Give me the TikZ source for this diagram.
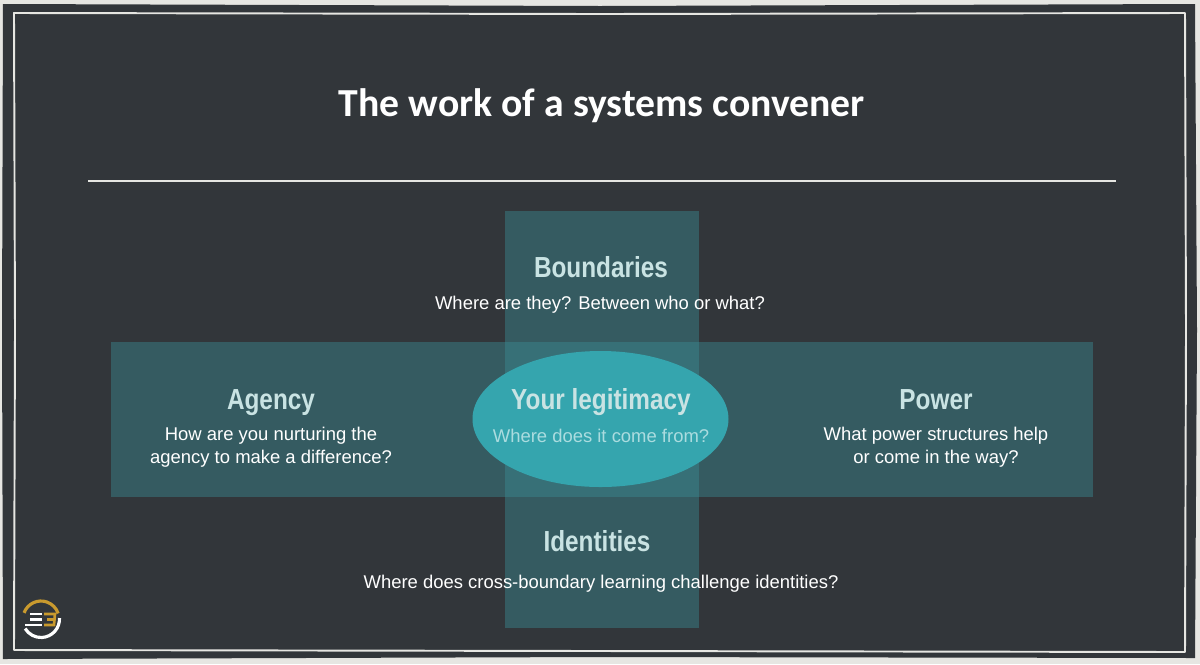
\documentclass[tikz,border=0pt]{standalone}
\usepackage{fontspec}
\setmainfont{Liberation Sans}
\newfontfamily\titlefont{Carlito}
\usetikzlibrary{shapes.geometric}
\definecolor{slate}{HTML}{32363A}
\definecolor{chalk}{HTML}{E6E6E2}
\definecolor{band}{HTML}{3A8F97}
\definecolor{lagoon}{HTML}{35A5AE}
\definecolor{heading}{HTML}{C9E3E3}
\definecolor{faded}{HTML}{ABDCDF}
\definecolor{gold}{HTML}{C99A2E}
\tikzset{heading/.style = {font=\bfseries\fontsize{16.5}{20}\selectfont, text=heading, inner sep=0, anchor=base, xscale=0.84}}
\tikzset{question/.style = {font=\fontsize{10.5}{13.2}\selectfont, text=white, align=center, inner sep=0}}
\tikzset{bandbox/.style = {fill=band, opacity=0.42, draw=none}}
\begin{document}
\begin{tikzpicture}[x=0.02cm,y=-0.02cm]
    \useasboundingbox (0,0) rectangle (1200,664);
    \fill [chalk] (0,0) rectangle (1200,664);
    \fill [slate] (3,4) -- (600,6) -- (1195,4) -- (1197,330) -- (1195,658) -- (600,657) -- (3,659) -- (2,330) -- cycle;
    \draw [chalk, line width=1.1pt, line join=round] (14,13) -- (600,14) -- (1185,13) -- (1186,330) -- (1185,652) -- (600,651) -- (14,650) -- (15,330) -- cycle;
    \node [font=\titlefont\bfseries\fontsize{22.6}{26}\selectfont, text=white, inner sep=0, anchor=base] (title) at (602,116) {The work of a systems convener};
    \coordinate (ruleleft) at (88,181);
    \coordinate (ruleright) at (1116,181);
    \draw [chalk, line width=0.7pt] (ruleleft) -- (ruleright);
    \fill [bandbox] (505,211) rectangle (699,628);
    \fill [bandbox] (111,342) rectangle (1093,497);
    \node [ellipse, fill=lagoon, minimum width=256*0.02cm, minimum height=136*0.02cm, inner sep=0] (centre) at (600.5,419) {};
    \node [heading] (boundaries) at (601,277) {Boundaries};
    \node [question, anchor=base] (boundariesq) at (600,309) {Where are they? Between who or what?};
    \node [heading] (agency) at (271,409) {Agency};
    \node [question] (agencyq) at (271,447) {How are you nurturing the\\agency to make a difference?};
    \node [heading] (legitimacy) at (601,409) {Your legitimacy};
    \node [question, anchor=base, text=faded] (legitimacyq) at (601,442) {Where does it come from?};
    \node [heading] (power) at (936,409) {Power};
    \node [question] (powerq) at (936,447) {What power structures help\\or come in the way?};
    \node [heading] (identities) at (597,551) {Identities};
    \node [question, anchor=base] (identitiesq) at (601,588) {Where does cross-boundary learning challenge identities?};
    % logo
    \coordinate (logo) at (41,619);
    \draw [gold, line width=1.8pt] (logo) ++(-160:18) arc [start angle=-160, end angle=-18, radius=18];
    \draw [white, line width=1.8pt] (logo) ++(-3:18.5) arc [start angle=-3, end angle=149, radius=18.5];
    \foreach \y/\xa/\xb in {614/30/42, 619.5/30/42, 625/25/42} {
        \draw [white, line width=1.5pt] (\xa,\y) -- (\xb,\y);
    }
    \draw [gold, line width=1.5pt] (44,614) -- (55,614) -- (54,625) -- (44,625) (47,619.5) -- (54,619.5);
\end{tikzpicture}
\end{document}
